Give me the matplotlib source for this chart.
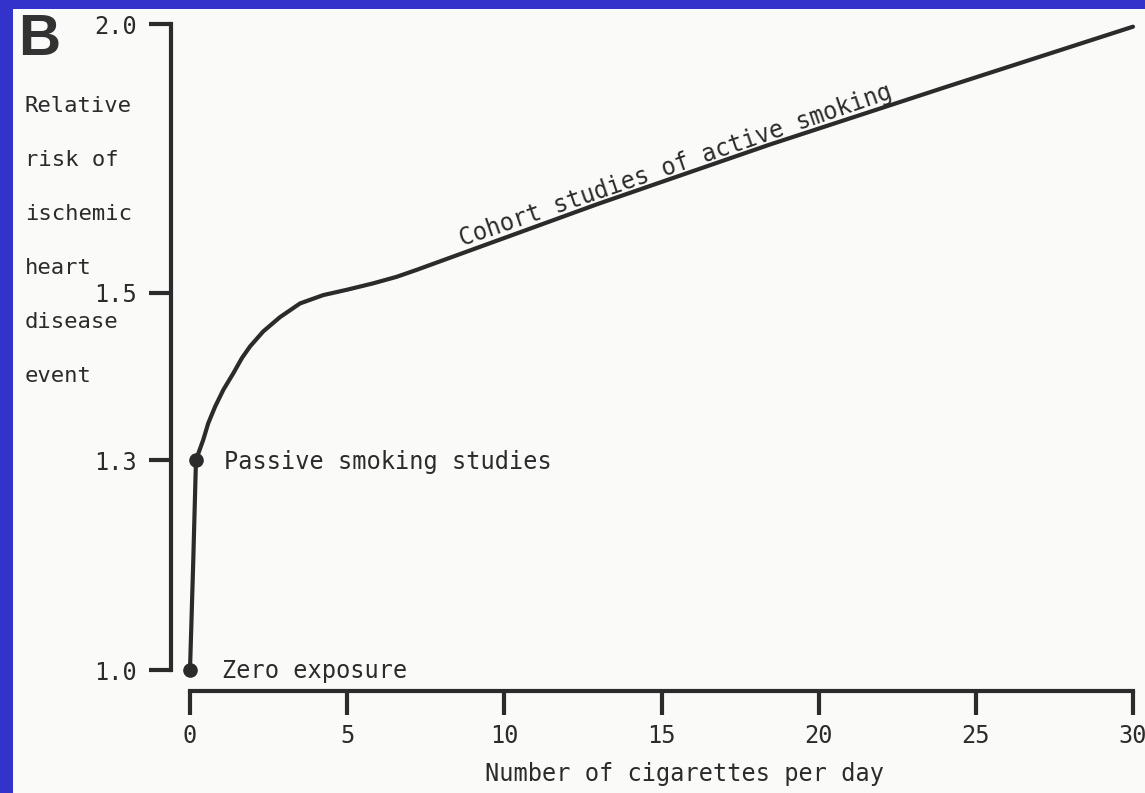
import numpy as np
import matplotlib
matplotlib.use("Agg")
import matplotlib.pyplot as plt
from matplotlib.patches import Rectangle

# -----------------------------
# Data
# -----------------------------
cig_per_day = [0, 0.1, 0.19, 0.42, 0.58, 0.80, 1.06, 1.38, 1.65, 1.91, 2.33, 2.86, 3.50,
               4.24, 4.99, 5.83, 6.57, 7.21, 13.0, 18.45, 24.0, 30.0]
rel_risk = [1.0, 1.15, 1.30, 1.324, 1.344, 1.364, 1.384, 1.404, 1.422, 1.436, 1.454, 1.471, 1.4875,
            1.4975, 1.506, 1.518, 1.530, 1.543, 1.666, 1.776, 1.882, 1.995]

point_x = [0, 0.19]
point_y = [1.0, 1.3]
point_labels = ["Zero exposure", "Passive smoking studies"]
curve_label = "Cohort studies of active smoking"

x_ticks = [0, 5, 10, 15, 20, 25, 30]
y_ticks = [1.0, 1.3, 1.5, 2.0]
y_ticklabels = ["1.0", "1.3", "1.5", "2.0"]
y_label_lines = ["Relative", "risk of", "ischemic", "heart", "disease", "event"]
x_label = "Number of cigarettes per day"

# -----------------------------
# Style / layout
# -----------------------------
INK = "#2b2b2b"
BLUE = "#3333cc"
PAPER = "#fafaf8"
W, H = 1145, 793

# the y axis is drawn with uneven spacing between its ticks
RISK_KNOTS = [0.0, 1.0, 1.3, 1.5, 2.0, 3.0]
PIX_KNOTS = [-700, 0, 210, 377, 646, 1722]


def fwd(v):
    return np.interp(v, RISK_KNOTS, PIX_KNOTS)


def inv(p):
    return np.interp(p, PIX_KNOTS, RISK_KNOTS)


plt.rcParams["font.family"] = ["DejaVu Sans Mono", "DejaVu Sans"]

fig = plt.figure(figsize=(W / 100, H / 100), dpi=100, facecolor=BLUE)
fig.patches.append(Rectangle((13 / W, 0), 1, (H - 9) / H, transform=fig.transFigure,
                             facecolor=PAPER, edgecolor="none", zorder=-5))

ax = fig.add_axes([190 / W, 123 / H, 943 / W, 646 / H])
ax.set_zorder(2)
ax.patch.set_visible(False)
ax.set_yscale("function", functions=(fwd, inv))
ax.set_xlim(0, 30)
ax.set_ylim(1.0, 2.0)

for side in ["top", "right"]:
    ax.spines[side].set_visible(False)
ax.spines["left"].set_position(("outward", 13.7))
ax.spines["left"].set_bounds(1.0, 2.0)
ax.spines["bottom"].set_position(("outward", 15))
ax.spines["bottom"].set_bounds(0, 30)
for side in ["left", "bottom"]:
    ax.spines[side].set_linewidth(3)
    ax.spines[side].set_color(INK)

ax.set_xticks(x_ticks)
ax.set_yticks(y_ticks)
ax.set_yticklabels(y_ticklabels)
ax.minorticks_off()
ax.tick_params(axis="y", length=16, width=3, color=INK, labelsize=17, labelcolor=INK, pad=8.6)
ax.tick_params(axis="x", length=17, width=3, color=INK, labelsize=17, labelcolor=INK, pad=7)

# curve and the two marked points
ax.plot(cig_per_day, rel_risk, color=INK, lw=3, clip_on=False,
        solid_capstyle="round", solid_joinstyle="round")
ax.plot(point_x, point_y, "o", ms=9.5, color=INK, clip_on=False)

offsets = [(32, -8), (28, -9)]
for x, y, lab, off in zip(point_x, point_y, point_labels, offsets):
    ax.annotate(lab, (x, y), xytext=off, textcoords="offset pixels",
                ha="left", va="baseline", fontsize=17, color=INK)

ax.text(8.65, 1.587, curve_label, rotation=19, rotation_mode="anchor",
        ha="left", va="baseline", fontsize=17, color=INK)

ax.set_xlabel(x_label, fontsize=17, color=INK)
ax.xaxis.set_label_coords(0.524, -0.1424)

# y axis title: stacked words at the left, one per line
for i, line in enumerate(y_label_lines):
    fig.text(25 / W, 1 - (112 + 54 * i) / H, line, ha="left", va="baseline",
             fontsize=16, color=INK)

fig.text(18 / W, 1 - 55 / H, "B", fontsize=42, fontweight="bold",
         family="Liberation Sans", color="#333333", va="baseline")

fig.savefig("out.png", dpi=100, facecolor=BLUE)
